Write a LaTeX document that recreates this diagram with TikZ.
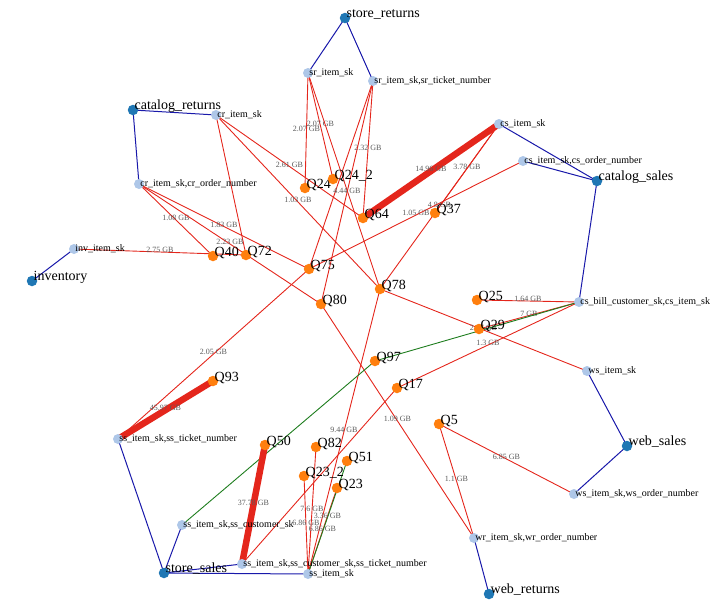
\documentclass[tikz,border=0pt]{standalone}
\usepackage{fontspec}
\setmainfont{Liberation Serif}
\definecolor{tabblue}{RGB}{31,119,180}
\definecolor{colblue}{RGB}{174,199,232}
\definecolor{qorange}{RGB}{255,127,14}
\definecolor{linkblue}{RGB}{25,25,170}
\definecolor{linkred}{RGB}{228,38,28}
\definecolor{linkgreen}{RGB}{30,125,30}
\definecolor{wgray}{RGB}{90,90,90}
\pgfdeclarelayer{background}
\pgfsetlayers{background,main}

\begin{document}
\begin{tikzpicture}[x=1pt,y=-1pt]

%
% Styles
%
\tikzstyle{tablenode} = [circle,fill=tabblue,minimum size=10.5pt,inner sep=0pt]
\tikzstyle{colnode}   = [circle,fill=colblue,minimum size=10pt,inner sep=0pt]
\tikzstyle{querynode} = [circle,fill=qorange,minimum size=10.5pt,inner sep=0pt]
\tikzstyle{tabtext}   = [anchor=base west,inner sep=0pt,xshift=-4pt,yshift=1pt,font=\fontsize{14}{14}\selectfont]
\tikzstyle{coltext}   = [anchor=base west,inner sep=0pt,xshift=-4pt,yshift=-2.5pt,font=\fontsize{10}{10}\selectfont]
\tikzstyle{qtext}     = [anchor=base west,inner sep=0pt,xshift=-4pt,yshift=-0.5pt,font=\fontsize{14}{14}\selectfont]
\tikzstyle{tedge}     = [draw=linkblue,line width=1pt]
\tikzstyle{qedge}     = [draw=linkred,line width=0.9pt]
\tikzstyle{gedge}     = [draw=linkgreen,line width=0.9pt]
\tikzstyle{heavy}     = [draw=linkred,line width=6.5pt]
\tikzstyle{weight}    = [inner sep=0pt,yshift=2pt,text=wgray,font=\fontsize{8}{8}\selectfont]

\useasboundingbox (0,0) rectangle (720,614);

% tables
\node[tablenode,label={[tabtext]0:store\_returns}]   (sret)   at (345,18)  {};
\node[tablenode,label={[tabtext]0:catalog\_returns}] (cret)   at (133,110) {};
\node[tablenode,label={[tabtext]0:catalog\_sales}]   (csales) at (597,181) {};
\node[tablenode,label={[tabtext]0:inventory}]        (inv)    at (32,281)  {};
\node[tablenode,label={[tabtext]0:store\_sales}]     (ssales) at (164,573) {};
\node[tablenode,label={[tabtext]0:web\_sales}]       (wsales) at (627,446) {};
\node[tablenode,label={[tabtext]0:web\_returns}]     (wret)   at (489,594) {};

% columns
\node[colnode,label={[coltext]0:sr\_item\_sk}]                 (srit)     at (308,73)  {};
\node[colnode,label={[coltext]0:sr\_item\_sk,sr\_ticket\_number}] (srtk)   at (373,81)  {};
\node[colnode,label={[coltext]0:cr\_item\_sk}]                 (crit)     at (216,115) {};
\node[colnode,label={[coltext]0:cr\_item\_sk,cr\_order\_number}] (crord)  at (139,184) {};
\node[colnode,label={[coltext]0:cs\_item\_sk}]                 (csit)     at (499,124) {};
\node[colnode,label={[coltext]0:cs\_item\_sk,cs\_order\_number}] (csord)  at (523,161) {};
\node[colnode,label={[coltext]0:inv\_item\_sk}]                (invit)    at (74,249)  {};
\node[colnode,label={[coltext]0:cs\_bill\_customer\_sk,cs\_item\_sk}] (csbill) at (579,302) {};
\node[colnode,label={[coltext]0:ws\_item\_sk}]                 (wsit)     at (587,371) {};
\node[colnode,label={[coltext]0:ws\_item\_sk,ws\_order\_number}] (wsord)  at (574,494) {};
\node[colnode,label={[coltext]0:wr\_item\_sk,wr\_order\_number}] (wrord)  at (474,538) {};
\node[colnode,label={[coltext]0:ss\_item\_sk,ss\_ticket\_number}] (sstk)  at (118,439) {};
\node[colnode,label={[coltext]0:ss\_item\_sk,ss\_customer\_sk}] (sscust)  at (182,525) {};
\node[colnode,label={[coltext]0:ss\_item\_sk,ss\_customer\_sk,ss\_ticket\_number}] (sscusttk) at (242,564) {};
\node[colnode,label={[coltext]0:ss\_item\_sk}]                 (ssit)     at (308,574) {};

% queries
\node[querynode,label={[qtext]0:Q24}]    (q24)  at (305,188) {};
\node[querynode,label={[qtext]0:Q24\_2}]  (q24b) at (333,179) {};
\node[querynode,label={[qtext]0:Q64}]    (q64)  at (363,218) {};
\node[querynode,label={[qtext]0:Q37}]    (q37)  at (435,213) {};
\node[querynode,label={[qtext]0:Q40}]    (q40)  at (213,256) {};
\node[querynode,label={[qtext]0:Q72}]    (q72)  at (246,255) {};
\node[querynode,label={[qtext]0:Q75}]    (q75)  at (309,269) {};
\node[querynode,label={[qtext]0:Q80}]    (q80)  at (321,304) {};
\node[querynode,label={[qtext]0:Q78}]    (q78)  at (380,289) {};
\node[querynode,label={[qtext]0:Q25}]    (q25)  at (477,300) {};
\node[querynode,label={[qtext]0:Q29}]    (q29)  at (479,329) {};
\node[querynode,label={[qtext]0:Q97}]    (q97)  at (375,361) {};
\node[querynode,label={[qtext]0:Q17}]    (q17)  at (397,388) {};
\node[querynode,label={[qtext]0:Q5}]     (q5)   at (439,424) {};
\node[querynode,label={[qtext]0:Q93}]    (q93)  at (213,381) {};
\node[querynode,label={[qtext]0:Q50}]    (q50)  at (265,445) {};
\node[querynode,label={[qtext]0:Q82}]    (q82)  at (316,447) {};
\node[querynode,label={[qtext]0:Q51}]    (q51)  at (347,461) {};
\node[querynode,label={[qtext]0:Q23\_2}]  (q23b) at (304,476) {};
\node[querynode,label={[qtext]0:Q23}]    (q23)  at (337,488) {};

\begin{pgfonlayer}{background}
% table to column
\draw[tedge] (sret.center) -- (srit.center);
\draw[tedge] (sret.center) -- (srtk.center);
\draw[tedge] (cret.center) -- (crit.center);
\draw[tedge] (cret.center) -- (crord.center);
\draw[tedge] (csales.center) -- (csit.center);
\draw[tedge] (csales.center) -- (csord.center);
\draw[tedge] (csales.center) -- (csbill.center);
\draw[tedge] (inv.center) -- (invit.center);
\draw[tedge] (wsales.center) -- (wsit.center);
\draw[tedge] (wsales.center) -- (wsord.center);
\draw[tedge] (wret.center) -- (wrord.center);
\draw[tedge] (ssales.center) -- (sstk.center);
\draw[tedge] (ssales.center) -- (sscust.center);
\draw[tedge] (ssales.center) -- (sscusttk.center);
\draw[tedge] (ssales.center) -- (ssit.center);

% column to query
\draw[qedge] (srit.center) -- node[weight] {2.07 GB} (q24.center);
\draw[qedge] (srit.center) -- node[weight] {2.07 GB} (q24b.center);
\draw[qedge] (srit.center) -- (q78.center);
\draw[qedge] (srtk.center) -- node[weight] {2.32 GB} (q64.center);
\draw[qedge] (srtk.center) -- (q75.center);
\draw[qedge] (srtk.center) -- node[weight] {4.44 GB} (q80.center);
\draw[qedge] (crit.center) -- node[weight] {2.61 GB} (q64.center);
\draw[qedge] (crit.center) -- (q72.center);
\draw[qedge] (crit.center) -- node[weight] {1.03 GB} (q78.center);
\draw[qedge] (crord.center) -- node[weight] {1.08 GB} (q40.center);
\draw[qedge] (crord.center) -- node[weight] {1.83 GB} (q75.center);
\draw[qedge] (crord.center) -- node[weight] {2.23 GB} (q80.center);
\draw[qedge] (invit.center) -- node[weight] {2.75 GB} (q72.center);
\draw[qedge] (csit.center) -- node[weight] {3.78 GB} (q37.center);
\draw[qedge] (csit.center) -- node[weight] {4.8 GB} (q78.center);
\draw[qedge] (csord.center) -- node[weight] {1.05 GB} (q75.center);
\draw[qedge] (csbill.center) -- node[weight] {1.64 GB} (q25.center);
\draw[qedge] (csbill.center) -- node[weight] {7 GB} (q29.center);
\draw[qedge] (csbill.center) -- node[weight] {1.3 GB} (q17.center);
\draw[qedge] (wsit.center) -- node[weight] {2.67 GB} (q78.center);
\draw[qedge] (wrord.center) -- node[weight] {1.09 GB} (q80.center);
\draw[qedge] (sstk.center) -- node[weight] {2.05 GB} (q75.center);
\draw[qedge] (sscusttk.center) -- (q17.center);
\draw[qedge] (ssit.center) -- node[weight] {9.44 GB} (q78.center);
\draw[qedge] (ssit.center) -- node[weight] {7.6 GB} (q82.center);
\draw[qedge] (ssit.center) -- node[weight] {6.86 GB} (q23b.center);
\draw[qedge] (ssit.center) -- node[weight] {6.86 GB} (q23.center);
\draw[qedge] (wsord.center) -- node[weight] {6.85 GB} (q5.center);
\draw[qedge] (wrord.center) -- node[weight] {1.1 GB} (q5.center);
\draw[gedge] (sscust.center) -- (q97.center);
\draw[gedge] (csbill.center) -- (q97.center);
\draw[gedge] (ssit.center) -- node[weight] {3.36 GB} (q51.center);

% heavy ones
\draw[heavy] (csit.center) -- node[weight] {14.96 GB} (q64.center);
\draw[heavy] (sstk.center) -- node[weight] {45.97 GB} (q93.center);
\draw[heavy] (sscusttk.center) -- node[weight] {37.78 GB} (q50.center);
\end{pgfonlayer}

\end{tikzpicture}
\end{document}
